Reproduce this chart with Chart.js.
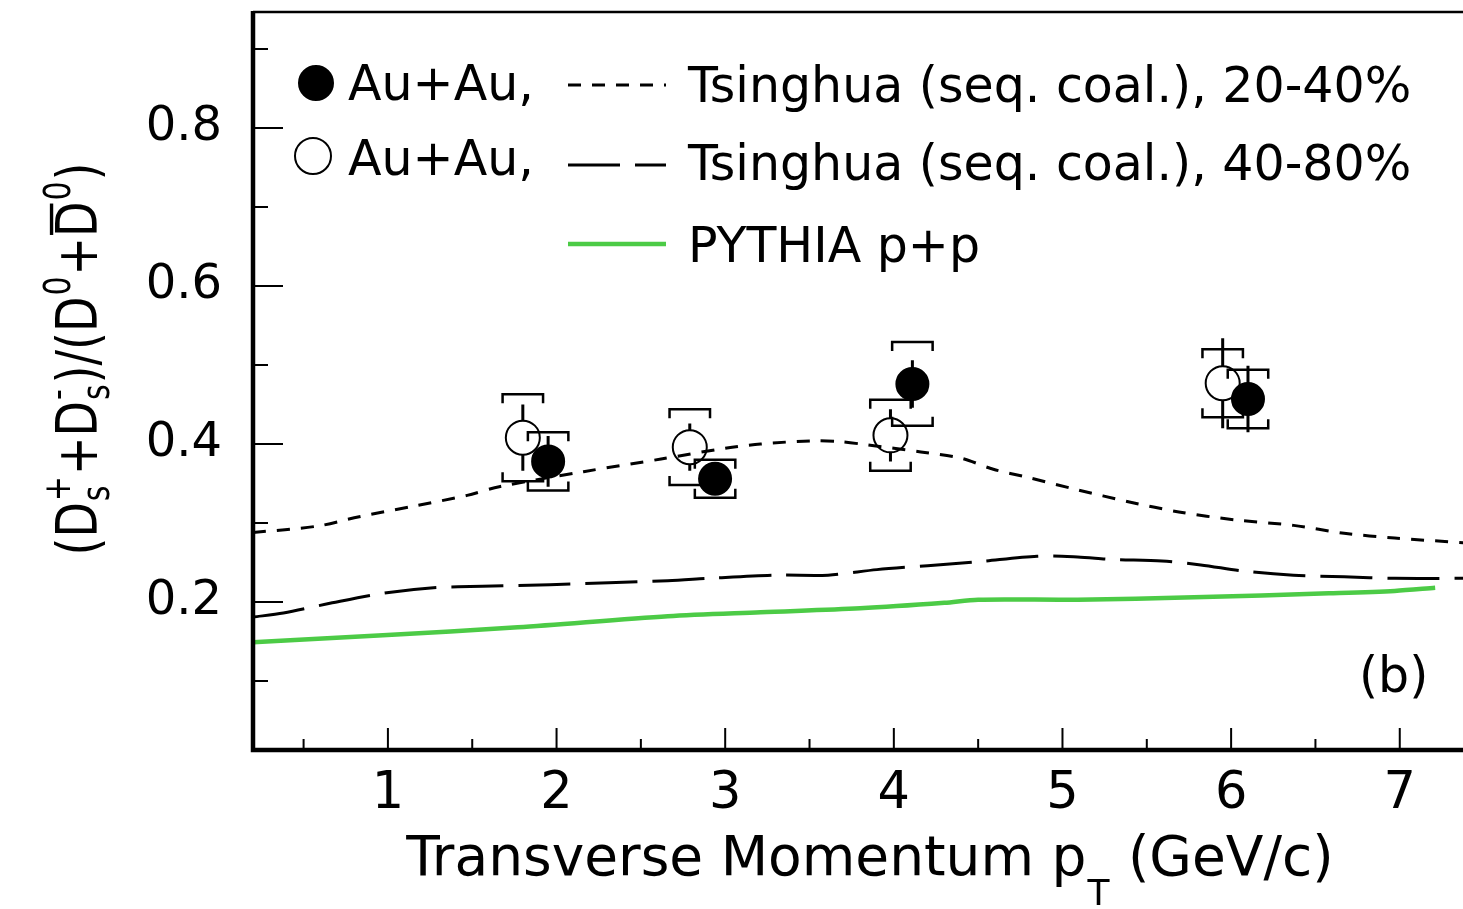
<!DOCTYPE html>
<html>
<head>
<meta charset="utf-8">
<script src="https://cdn.jsdelivr.net/npm/chart.js@4.4.0/dist/chart.umd.min.js"></script>
<style>
  html, body { margin: 0; padding: 0; background: #fff; }
  #wrap { width: 1463px; height: 909px; }
</style>
</head>
<body>
<div id="wrap"><canvas id="c" width="1463" height="909"></canvas></div>
<script>
// --- values ---
// Au+Au 20-40% (filled)
const ptFilled   = [1.95, 2.94, 4.11, 6.10]
const rFilled    = [0.378, 0.356, 0.476, 0.457]
const statFilled = [0.032, 0.020, 0.030, 0.042]
const sysFilled  = [0.037, 0.024, 0.053, 0.037]
// Au+Au 40-80% (open)
const ptOpen   = [1.80, 2.79, 3.98, 5.95]
const rOpen    = [0.408, 0.396, 0.411, 0.477]
const statOpen = [0.042, 0.030, 0.033, 0.057]
const sysOpen  = [0.055, 0.048, 0.045, 0.043]

// Tsinghua seq. coal. 20-40%
const tsX20 = [0.2, 0.58, 0.83, 1.17, 1.47, 1.66, 2.16, 2.62, 3.01, 3.21, 3.51, 3.68, 3.84, 4.16, 4.40, 4.59, 4.79, 5.09, 5.39, 5.69, 6.02, 6.37, 6.67, 6.97, 7.38]
const tsY20 = [0.288, 0.296, 0.308, 0.322, 0.335, 0.346, 0.365, 0.381, 0.395, 0.400, 0.404, 0.403, 0.399, 0.390, 0.382, 0.368, 0.358, 0.342, 0.327, 0.314, 0.304, 0.297, 0.287, 0.281, 0.275]
// Tsinghua seq. coal. 40-80%
const tsX40 = [0.2, 0.38, 0.67, 0.97, 1.27, 1.56, 1.96, 2.66, 2.91, 3.31, 3.61, 3.90, 4.20, 4.50, 4.85, 5.09, 5.29, 5.59, 5.82, 6.08, 6.37, 6.67, 6.97, 7.38]
const tsY40 = [0.181, 0.186, 0.199, 0.211, 0.218, 0.220, 0.222, 0.227, 0.230, 0.234, 0.234, 0.241, 0.246, 0.251, 0.258, 0.257, 0.254, 0.252, 0.247, 0.239, 0.234, 0.232, 0.230, 0.230]
// PYTHIA p+p
const pyX = [0.2, 0.97, 1.77, 2.66, 3.21, 3.80, 4.30, 4.50, 5.09, 5.78, 6.58, 6.97, 7.21]
const pyY = [0.149, 0.158, 0.168, 0.182, 0.187, 0.192, 0.199, 0.203, 0.203, 0.206, 0.211, 0.214, 0.218]

const xMajor = [1, 2, 3, 4, 5, 6, 7]
const xMinor = [0.5, 1.5, 2.5, 3.5, 4.5, 5.5, 6.5]
const yMajor = [0.2, 0.4, 0.6, 0.8]
const yMinor = [0.1, 0.3, 0.5, 0.7, 0.9]

const labels = ['Au+Au,', 'Au+Au,', 'Tsinghua (seq. coal.), 20-40%', 'Tsinghua (seq. coal.), 40-80%', 'PYTHIA p+p']

const FONT = "'DejaVu Sans', sans-serif"
const GREEN = '#4ccb46'
const SYS_HALF = 0.12 // half width of the sys. brackets, in GeV/c

function xy(xs, ys) { return xs.map((x, i) => ({ x: x, y: ys[i] })) }

// draw text with ROOT style sub/superscripts. parts: strings or {t, sup, sub, bar}
function drawRich(ctx, parts, x, y, size, align) {
  const small = Math.round(size * 0.65)
  const big = size + 'px ' + FONT, sm = small + 'px ' + FONT
  const w = p => {
    if (typeof p === 'string') { ctx.font = big; return ctx.measureText(p).width }
    ctx.font = big
    let base = ctx.measureText(p.t).width
    ctx.font = sm
    const a = p.sup ? ctx.measureText(p.sup).width : 0
    const b = p.sub ? ctx.measureText(p.sub).width : 0
    return base + Math.max(a, b) + 2
  }
  const total = parts.reduce((s, p) => s + w(p), 0)
  let cx = align === 'center' ? x - total / 2 : x
  parts.forEach(p => {
    if (typeof p === 'string') {
      ctx.font = big; ctx.fillText(p, cx, y)
    } else {
      ctx.font = big; ctx.fillText(p.t, cx, y)
      const bw = ctx.measureText(p.t).width
      if (p.bar) {
        ctx.fillRect(cx + 2, y - size * 0.84, bw - 4, size * 0.06)
      }
      ctx.font = sm
      if (p.sup) ctx.fillText(p.sup, cx + bw + 1, y - size * 0.48)
      if (p.sub) ctx.fillText(p.sub, cx + bw + 1, y + size * (p.subDrop || 0.22))
    }
    cx += w(p)
  })
  return total
}

const whiteBg = {
  id: 'whiteBg',
  beforeDraw(chart) {
    const ctx = chart.ctx
    ctx.save(); ctx.fillStyle = '#fff'; ctx.fillRect(0, 0, chart.width, chart.height); ctx.restore()
  }
}

// stat error lines + systematic brackets, drawn under the markers
const errorBars = {
  id: 'errorBars',
  beforeDatasetsDraw(chart) {
    const ctx = chart.ctx, xs = chart.scales.x, ys = chart.scales.y
    ctx.save()
    ctx.strokeStyle = '#000'
    chart.data.datasets.forEach(ds => {
      if (!ds.stat) return
      ds.data.forEach((p, i) => {
        const px = xs.getPixelForValue(p.x), py = ys.getPixelForValue(p.y)
        const r = ds.pointRadius
        const top = ys.getPixelForValue(p.y + ds.stat[i]), bot = ys.getPixelForValue(p.y - ds.stat[i])
        ctx.lineWidth = 3
        ctx.beginPath()
        if (py - top > r) { ctx.moveTo(px, py - r); ctx.lineTo(px, top) }
        if (bot - py > r) { ctx.moveTo(px, py + r); ctx.lineTo(px, bot) }
        ctx.stroke()
        const sTop = ys.getPixelForValue(p.y + ds.sys[i]), sBot = ys.getPixelForValue(p.y - ds.sys[i])
        const xl = xs.getPixelForValue(p.x - SYS_HALF), xr = xs.getPixelForValue(p.x + SYS_HALF)
        ctx.lineWidth = 2.5
        ctx.beginPath()
        ctx.moveTo(xl, sTop + 9); ctx.lineTo(xl, sTop); ctx.lineTo(xr, sTop); ctx.lineTo(xr, sTop + 9)
        ctx.moveTo(xl, sBot - 9); ctx.lineTo(xl, sBot); ctx.lineTo(xr, sBot); ctx.lineTo(xr, sBot - 9)
        ctx.stroke()
      })
    })
    ctx.restore()
  }
}

// frame, inward ticks, axis titles, legend, panel tag
const decorations = {
  id: 'decorations',
  afterDraw(chart) {
    const ctx = chart.ctx, a = chart.chartArea, xs = chart.scales.x, ys = chart.scales.y
    ctx.save()
    ctx.strokeStyle = '#000'
    // ticks
    ctx.lineWidth = 2
    ctx.beginPath()
    yMajor.forEach(v => { const p = ys.getPixelForValue(v); ctx.moveTo(a.left, p); ctx.lineTo(a.left + 30, p) })
    yMinor.forEach(v => { const p = ys.getPixelForValue(v); ctx.moveTo(a.left, p); ctx.lineTo(a.left + 15, p) })
    xMajor.forEach(v => { const p = xs.getPixelForValue(v); ctx.moveTo(p, a.bottom); ctx.lineTo(p, a.bottom - 22) })
    xMinor.forEach(v => { const p = xs.getPixelForValue(v); ctx.moveTo(p, a.bottom); ctx.lineTo(p, a.bottom - 11) })
    ctx.stroke()
    // frame
    ctx.lineWidth = 2.5
    ctx.beginPath(); ctx.moveTo(a.left, a.top); ctx.lineTo(chart.width, a.top); ctx.stroke()
    ctx.lineWidth = 4.5
    ctx.beginPath()
    ctx.moveTo(a.left, a.top - 1); ctx.lineTo(a.left, a.bottom); ctx.lineTo(chart.width, a.bottom)
    ctx.stroke()

    ctx.fillStyle = '#000'
    ctx.textBaseline = 'alphabetic'
    // x title
    drawRich(ctx, ['Transverse Momentum p', { t: '', sub: 'T', subDrop: 0.55 }, ' (GeV/c)'], 870, 875, 55, 'center')
    // y title, rotated
    ctx.save()
    ctx.translate(97, 359)
    ctx.rotate(-Math.PI / 2)
    ctx.scale(1, 1.22)
    drawRich(ctx, ['(', { t: 'D', sup: '+', sub: 's' }, '+', { t: 'D', sup: '-', sub: 's' }, ')/(',
      { t: 'D', sup: '0' }, '+', { t: 'D', sup: '0', bar: true }, ')'], 0, 0, 46, 'center')
    ctx.restore()

    // legend, built from the datasets
    const ds = chart.data.datasets
    ctx.font = '49px ' + FONT
    const markerPos = [[316, 83, 100], [313, 156, 175]]
    markerPos.forEach((m, i) => {
      const d = ds[i]
      ctx.beginPath(); ctx.arc(m[0], m[1], d.pointRadius + 1, 0, Math.PI * 2)
      if (d.backgroundColor !== 'rgba(0,0,0,0)') { ctx.fillStyle = d.backgroundColor; ctx.fill() }
      ctx.lineWidth = d.borderWidth; ctx.strokeStyle = d.borderColor; ctx.stroke()
      ctx.fillStyle = '#000'
      ctx.fillText(d.label, 348, m[2])
    })
    const linePos = [[85, 102], [165, 180], [244, 262]]
    linePos.forEach((l, i) => {
      const d = ds[i + 2]
      ctx.save()
      ctx.strokeStyle = d.borderColor; ctx.lineWidth = d.borderWidth
      ctx.setLineDash(d.borderDash || [])
      ctx.beginPath(); ctx.moveTo(568, l[0]); ctx.lineTo(666, l[0]); ctx.stroke()
      ctx.restore()
      ctx.fillStyle = '#000'
      ctx.fillText(d.label, 688, l[1])
    })
    ctx.font = '49px ' + FONT
    ctx.fillText('(b)', 1359, 692)
    ctx.restore()
  }
}

new Chart(document.getElementById('c'), {
  type: 'scatter',
  data: {
    datasets: [
      { label: labels[0], data: xy(ptFilled, rFilled), stat: statFilled, sys: sysFilled,
        pointRadius: 16, pointStyle: 'circle', backgroundColor: '#000', borderColor: '#000', borderWidth: 2, showLine: false },
      { label: labels[1], data: xy(ptOpen, rOpen), stat: statOpen, sys: sysOpen,
        pointRadius: 17, pointStyle: 'circle', backgroundColor: 'rgba(0,0,0,0)', borderColor: '#000', borderWidth: 2, showLine: false },
      { label: labels[2], data: xy(tsX20, tsY20), showLine: true, pointRadius: 0, borderColor: '#000', borderWidth: 3,
        borderDash: [13, 11], tension: 0.3, fill: false },
      { label: labels[3], data: xy(tsX40, tsY40), showLine: true, pointRadius: 0, borderColor: '#000', borderWidth: 3,
        borderDash: [52, 15], tension: 0.3, fill: false },
      { label: labels[4], data: xy(pyX, pyY), showLine: true, pointRadius: 0, borderColor: GREEN, borderWidth: 4.5,
        tension: 0.3, fill: false }
    ]
  },
  options: {
    responsive: false,
    animation: false,
    layout: { autoPadding: false, padding: { top: 12, right: 0, left: 0, bottom: 0 } },
    plugins: { legend: { display: false }, tooltip: { enabled: false } },
    scales: {
      x: {
        type: 'linear', min: 0.2, max: 7.375,
        grid: { display: false }, border: { display: false },
        afterFit: s => { s.height = 159; s.paddingLeft = 0; s.paddingRight = 0 },
        afterBuildTicks: s => { s.ticks = xMajor.map(v => ({ value: v })) },
        ticks: { color: '#000', font: { family: FONT, size: 51 }, padding: 6, maxRotation: 0,
          callback: v => String(v) }
      },
      y: {
        type: 'linear', min: 0.0127, max: 0.9468,
        grid: { display: false }, border: { display: false },
        afterFit: s => { s.width = 253; s.paddingTop = 0; s.paddingBottom = 0 },
        afterBuildTicks: s => { s.ticks = yMajor.map(v => ({ value: v })) },
        ticks: { color: '#000', font: { family: FONT, size: 48 }, padding: 23,
          callback: v => v.toFixed(1) }
      }
    }
  },
  plugins: [whiteBg, errorBars, decorations]
})
</script>
</body>
</html>
